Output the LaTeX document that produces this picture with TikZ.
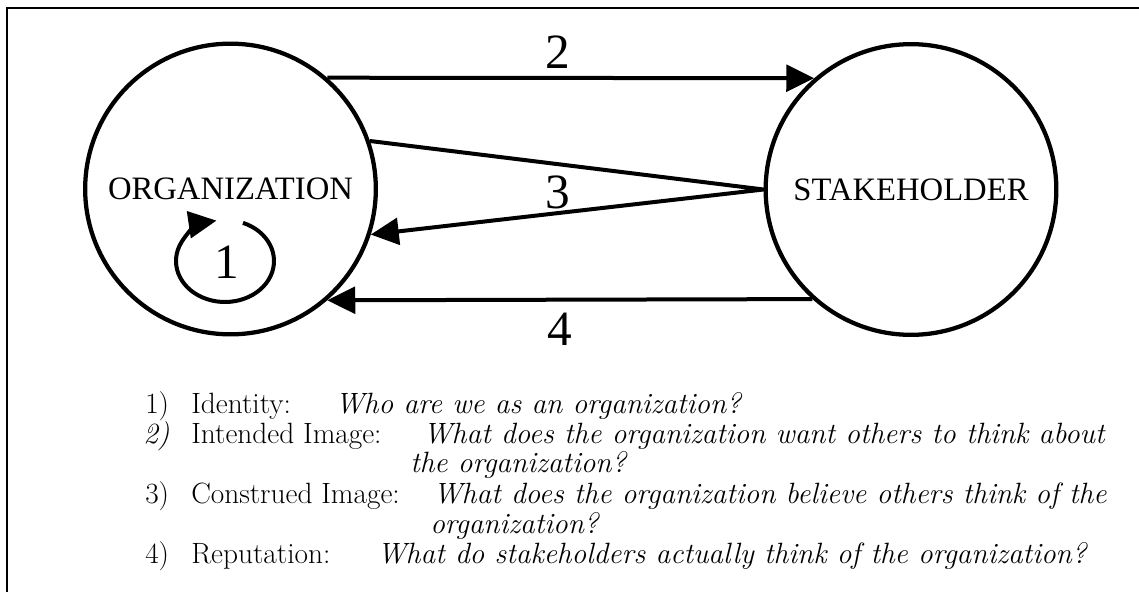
\documentclass[tikz,border=0pt]{standalone}
\usepackage{fontspec}
\newfontfamily\diagfont{Liberation Serif}
\usetikzlibrary{arrows.meta}

\begin{document}
\begin{tikzpicture}[x=0.75pt, y=-0.75pt,
    party/.style={draw, circle, line width=3.2pt, minimum size=218pt, inner sep=0pt, font=\diagfont\fontsize{24.5}{28}\selectfont},
    arr/.style={line width=3pt, line join=round, -{Triangle[length=21pt,width=20pt]}},
    num/.style={inner sep=0pt, font=\diagfont\fontsize{37}{40}\selectfont},
    item/.style={anchor=base west, inner sep=0pt, font=\fontsize{22}{26}\selectfont},
    question/.style={item, font=\fontsize{22}{26}\selectfont\itshape}]
			\useasboundingbox (0,0) rectangle (1139,592);
			\draw[line width=1.5pt] (7,592) -- (7,8) -- (1139,8);

			\node[party] (org) at (230.5,189) {ORGANIZATION};
			\node[party] (stake) at (911,189.5) {STAKEHOLDER};
			\coordinate (self) at (225,261);

			\draw[arr] (self) ++(-68.5:49 and 41) arc[start angle=-68.5, end angle=260, x radius=49, y radius=41];
			\draw[arr] (org.49) -- (stake.131);
			\draw[arr] (org.19) -- (stake.west) -- (org.-18.6);
			\draw[arr] (stake.228) -- (org.-49);

			\node[num] (n1) at (227,262) {1};
			\node[num] (n2) at (558,52) {2};
			\node[num] (n3) at (558,192) {3};
			\node[num] (n4) at (560,329) {4};

			\node[item] (k1) at (145,413) {1)};
			\node[item] (t1) at (191,413) {Identity:};
			\node[question] (q1) at (335,413) {Who are we as an organization?};
			\node[question] (k2) at (143,443) {2)};
			\node[item] (t2) at (191,443) {Intended Image:};
			\node[question] (q2) at (423,443) {What does the organization want others to think about};
			\node[question] (q2b) at (410,472) {the organization?};
			\node[item] (k3) at (145,503) {3)};
			\node[item] (t3) at (191,503) {Construed Image:};
			\node[question] (q3) at (433,503) {What does the organization believe others think of the};
			\node[question] (q3b) at (430,533) {organization?};
			\node[item] (k4) at (145,563) {4)};
			\node[item] (t4) at (191,563) {Reputation:};
			\node[question] (q4) at (377,563) {What do stakeholders actually think of the organization?};
		\end{tikzpicture}
\end{document}
